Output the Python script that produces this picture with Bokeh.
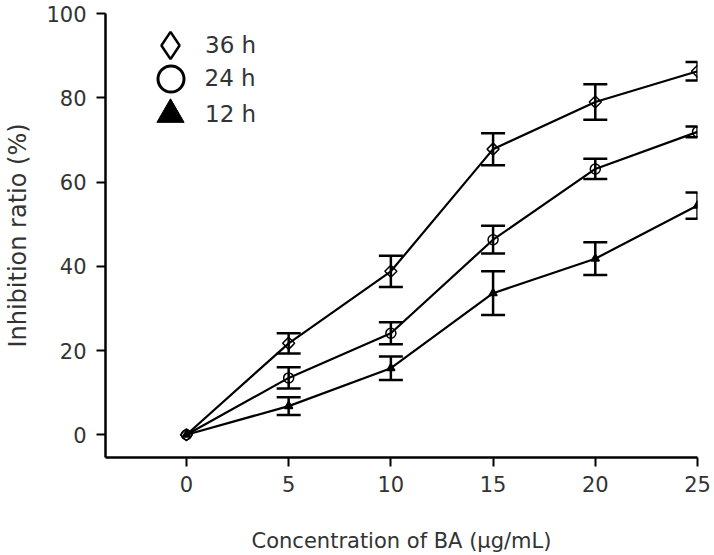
from bokeh.plotting import figure
from bokeh.models import (ColumnDataSource, Range1d, Whisker, TeeHead, Legend,
                          LegendItem, FixedTicker)
from bokeh.embed import file_html
from bokeh.resources import INLINE
import numpy as np
import math

# ---- data ----
conc = [0, 5, 10, 15, 20, 25]
h36 = [0, 21.7, 38.8, 67.8, 79.0, 86.3]
err36 = [0, 2.4, 3.7, 3.8, 4.2, 2.2]
h24 = [0, 13.5, 24.1, 46.3, 63.1, 71.9]
err24 = [0, 2.5, 2.6, 3.3, 2.4, 1.3]
h12 = [0, 6.8, 15.8, 33.6, 41.8, 54.4]
err12 = [0, 2.1, 2.8, 5.2, 3.9, 3.1]
series_labels = ["36 h", "24 h", "12 h"]
x_ticks = [0, 5, 10, 15, 20, 25]
y_ticks = [0, 20, 40, 60, 80, 100]
x_title = "Concentration of BA (µg/mL)"
y_title = "Inhibition ratio (%)"

FONT = "DejaVu Sans"
TXT = "#333333"

W, H = 714, 555
FL, FT, FR, FB = 105, 13, 697, 460   # frame edges in picture pixels

p = figure(width=W, height=H, output_backend="svg", toolbar_location=None,
           x_range=Range1d(-3.96, 25), y_range=Range1d(-5.4, 100),
           min_border_left=FL, min_border_right=W - FR, min_border_top=FT,
           min_border_bottom=H - FB)
p.outline_line_color = None
p.xgrid.visible = False
p.ygrid.visible = False

for ax in (p.xaxis, p.yaxis):
    ax.axis_line_width = 2.5
    ax.axis_line_color = "black"
    ax.major_tick_line_width = 2
    ax.major_tick_line_color = "black"
    ax.major_tick_out = 9
    ax.major_tick_in = 0
    ax.minor_tick_line_color = None
    ax.major_label_text_font = FONT
    ax.major_label_text_font_size = "21px"
    ax.major_label_text_color = TXT
    ax.axis_label_text_font = FONT
    ax.axis_label_text_font_style = "normal"
    ax.axis_label_text_color = TXT

p.xaxis.ticker = FixedTicker(ticks=x_ticks)
p.yaxis.ticker = FixedTicker(ticks=y_ticks)
p.xaxis.major_label_standoff = 9
p.yaxis.major_label_standoff = 10

p.xaxis.axis_label = x_title
p.xaxis.axis_label_text_font_size = "21px"
p.xaxis.axis_label_standoff = 34

p.yaxis.axis_label = y_title
p.yaxis.axis_label_text_font_size = "24px"
p.yaxis.axis_label_standoff = 11

# (values, errors, data marker, size, angle, fill, fill_alpha, legend marker, legend box, legend line width)
series = [
    (h36, err36, "square", 8.5, math.pi / 4, "white", 0.0, "diamond", 68, 2.5),
    (h24, err24, "circle", 10, 0.0, "white", 0.0, "circle", 65, 3),
    (h12, err12, "triangle", 8, 0.0, "black", 1.0, "triangle", 68, 1),
]
legend_centers_y = [48, 81, 117]   # picture pixels of the legend rows

for (vals, errs, marker, size, ang, fill, falpha, lmarker, gl, llw), lab, cy in zip(
        series, series_labels, legend_centers_y):
    src = ColumnDataSource(dict(x=conc, y=vals))
    p.line("x", "y", source=src, line_color="black", line_width=2.2)
    xs = [c for c, e in zip(conc, errs) if e > 0]
    up = [v + e for v, e in zip(vals, errs) if e > 0]
    lo = [v - e for v, e in zip(vals, errs) if e > 0]
    wsrc = ColumnDataSource(dict(x=xs, upper=up, lower=lo))
    w = Whisker(source=wsrc, base="x", upper="upper", lower="lower", dimension="height",
                line_width=2.5, line_color="black",
                upper_head=TeeHead(size=24, line_width=2.5, line_color="black"),
                lower_head=TeeHead(size=24, line_width=2.5, line_color="black"))
    p.add_layout(w)
    p.scatter("x", "y", source=src, marker=marker, size=size, angle=ang, line_color="black",
              line_width=1.5, fill_color=fill, fill_alpha=falpha)
    dummy = ColumnDataSource(dict(x=[np.nan], y=[np.nan]))
    r = p.scatter("x", "y", source=dummy, marker=lmarker, size=size,
                  line_color="black", line_width=llw, fill_color=fill, fill_alpha=falpha)
    leg = Legend(items=[LegendItem(label=lab, renderers=[r])],
                 location=(170 - gl / 2 - FL, FB - (cy + gl / 2)),
                 glyph_width=gl, glyph_height=gl, padding=0, margin=0, spacing=0,
                 label_standoff=int(round(205 - (170 + gl / 2))),
                 label_text_font=FONT, label_text_font_size="23px",
                 label_text_color=TXT, border_line_alpha=0, background_fill_alpha=0)
    p.add_layout(leg)

open("out.html", "w").write(file_html(p, INLINE))
